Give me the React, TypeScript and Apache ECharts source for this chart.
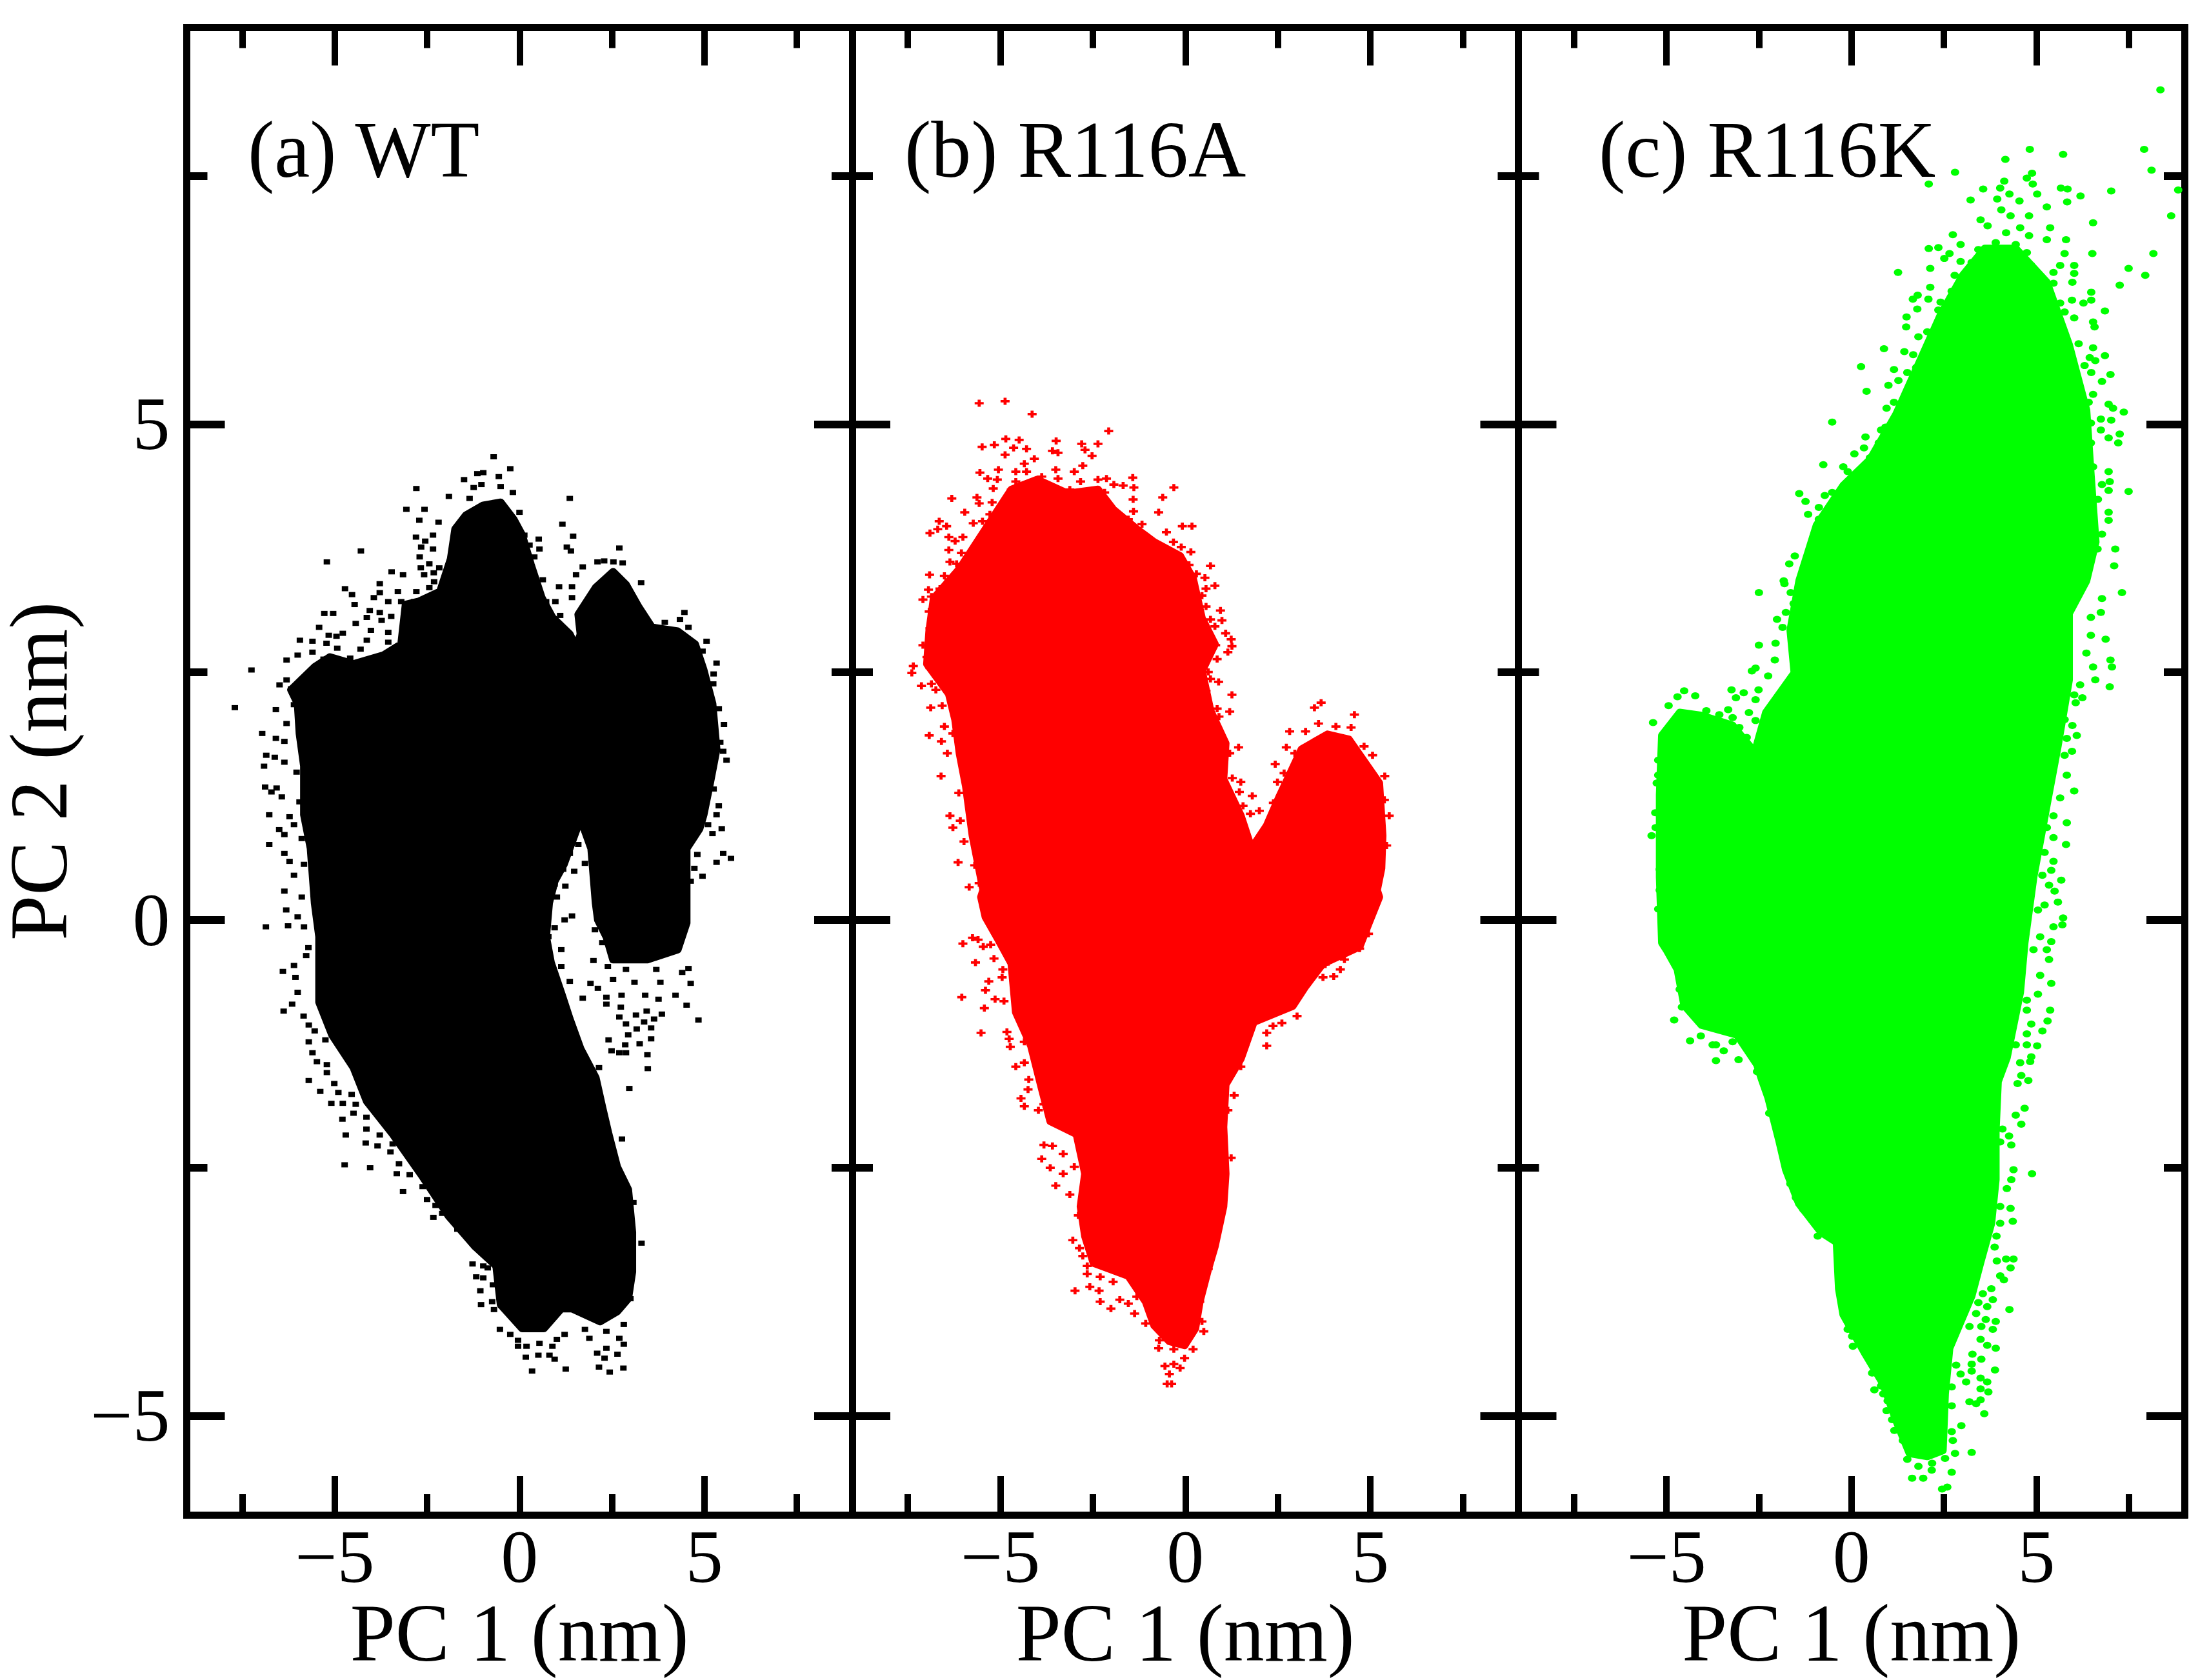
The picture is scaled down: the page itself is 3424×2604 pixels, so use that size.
import React, { useEffect, useRef } from "react";
import * as echarts from "echarts";

const panelNames = ["(a) WT", "(b) R116A", "(c) R116K"];
const panelColors = ["#000000", "#ff0000", "#00ff00"];
const xTitle = "PC 1 (nm)";
const yTitle = "PC 2 (nm)";
const majorTicks = [-5, 0, 5];
const xMinorTicks = [-7.5, -2.5, 2.5, 7.5];
const yMinorTicks = [-2.5, 2.5, 7.5];

// Dense core of each cloud, outline [PC1, PC2]
const coreWT = [[-5.42,-.83],[-5.42,-.17],[-5.54,.17],[-5.65,.72],[-5.83,1.06],[-5.83,1.55],[-5.95,1.88],[-6,2.18],[-6.18,2.32],[-5.54,2.55],[-5.13,2.65],[-4.49,2.58],[-3.67,2.67],[-3.2,2.78],[-3.08,3.18],[-2.73,3.21],[-2.15,3.31],[-1.86,3.64],[-1.74,3.94],[-1.45,4.08],[-.98,4.18],[-.51,4.21],[-.16,4.04],[.07,3.88],[.31,3.58],[.6,3.25],[.89,3.05],[1.36,2.88],[1.53,2.75],[1.65,2.88],[1.59,3.08],[2.06,3.35],[2.53,3.51],[2.88,3.38],[3.23,3.15],[3.58,2.95],[4.28,2.91],[4.75,2.78],[4.98,2.52],[5.22,2.18],[5.33,1.72],[5.16,1.39],[4.98,1.06],[4.87,.92],[4.52,.72],[4.52,.17],[4.52,-.03],[4.28,-.3],[3.46,-.4],[2.53,-.4],[2.35,-.17],[2.12,0],[2.06,.17],[1.94,.72],[1.65,1.02],[1.2,.56],[.95,.39],[.8,.17],[.72,-.17],[.85,-.43],[1.15,-.76],[1.36,-1],[1.65,-1.3],[2.06,-1.59],[2.24,-1.89],[2.41,-2.16],[2.64,-2.49],[2.94,-2.72],[3.05,-3.15],[3.05,-3.55],[2.94,-3.82],[2.64,-3.95],[2.18,-4.05],[1.42,-3.92],[1.13,-3.92],[.66,-4.12],[.07,-4.12],[-.51,-3.88],[-.63,-3.49],[-1.21,-3.29],[-1.91,-2.99],[-2.62,-2.59],[-3.43,-2.16],[-4.13,-1.83],[-4.49,-1.49],[-5.07,-1.16]];

const coreR116A = [[-5.46,.3],[-5.75,.85],[-5.93,1.35],[-6.1,1.68],[-6.22,2.02],[-6.39,2.28],[-6.98,2.58],[-6.92,2.91],[-6.8,3.24],[-6.1,3.54],[-5.4,3.94],[-4.7,4.34],[-4,4.44],[-3.18,4.3],[-2.36,4.34],[-1.95,4.14],[-1.31,3.94],[-.84,3.81],[-.14,3.67],[.21,3.44],[.45,3.04],[.8,2.78],[.45,2.51],[.68,2.11],[1.09,1.78],[1.03,1.42],[1.5,1.05],[1.79,.72],[2.2,.95],[2.55,1.25],[3.14,1.72],[3.84,1.87],[4.42,1.82],[5.24,1.38],[5.33,.85],[5.3,.52],[5.18,.3],[5.24,.23],[4.95,-.04],[4.71,-.27],[3.72,-.44],[3.25,-.67],[2.9,-.87],[1.85,-1.03],[1.5,-1.4],[1.09,-1.66],[1.03,-2.09],[1.09,-2.56],[1.03,-2.89],[.8,-3.29],[.62,-3.52],[.39,-3.85],[.27,-4.12],[-.02,-4.29],[-.43,-4.25],[-.84,-4.09],[-1.07,-3.85],[-1.54,-3.59],[-2.48,-3.46],[-2.71,-3.19],[-2.83,-2.89],[-2.71,-2.56],[-2.94,-2.16],[-3.65,-2.03],[-3.88,-1.7],[-4.17,-1.27],[-4.58,-.93],[-4.7,-.44],[-5.05,-.2],[-5.4,.03],[-5.52,.23]];

const coreR116K = [[-5.12,-.23],[-5.18,.43],[-5.18,1.26],[-5.12,1.86],[-4.64,2.09],[-4.05,2.06],[-3.21,1.96],[-2.61,1.69],[-2.31,2.09],[-1.54,2.49],[-1.65,2.92],[-1.41,3.42],[-.94,3.98],[-.22,4.38],[.5,4.64],[1.21,5.1],[1.45,5.3],[2.41,6.1],[3.01,6.5],[3.6,6.77],[4.44,6.77],[5.28,6.43],[5.88,5.8],[6.35,5.14],[6.47,4.48],[6.6,3.81],[6.35,3.42],[5.88,3.09],[5.88,2.42],[5.58,1.76],[5.28,1.16],[4.92,.43],[4.68,-.23],[4.56,-.73],[4.2,-1.39],[3.96,-1.63],[3.9,-2.13],[3.9,-2.62],[3.78,-3.06],[3.49,-3.45],[3.25,-3.79],[2.65,-4.32],[2.53,-4.78],[2.47,-5.35],[2.05,-5.41],[1.57,-5.38],[1.21,-5.05],[.86,-4.68],[.38,-4.38],[-.22,-3.98],[-.34,-3.72],[-.4,-3.25],[-.82,-3.15],[-1.42,-2.86],[-1.77,-2.52],[-1.95,-2.23],[-2.25,-1.79],[-2.43,-1.6],[-2.55,-1.46],[-3.09,-1.16],[-4.05,-1.06],[-4.52,-.86],[-4.7,-.5],[-5,-.3]];

// Individually visible fringe points [PC1, PC2]
const fringeWT = [[-.7,4.67],[-.25,4.55],[-.98,4.51],[-1.14,4.5],[-.56,4.47],[-1.5,4.44],[-2.79,4.35],[-1.03,4.39],[-1.24,4.36],[-.51,4.37],[-.18,4.31],[-1.91,4.27],[1.36,4.25],[-1.35,4.25],[-3.06,4.14],[-2.57,4.14],[0,4.11],[-2.71,4.03],[-2.19,4.01],[1.16,3.99],[.13,3.88],[.52,3.84],[1.45,3.87],[-2.8,3.86],[-2.34,3.88],[-2.55,3.82],[.27,3.78],[1.28,3.76],[1.39,3.72],[.54,3.74],[2.7,3.75],[-4.29,3.72],[-2.34,3.74],[-2.66,3.76],[.4,3.66],[-2.7,3.66],[-5.21,3.61],[2.11,3.61],[2.29,3.62],[2.54,3.61],[2.79,3.6],[1.71,3.56],[-2.44,3.59],[-2.67,3.55],[-2.17,3.55],[-3.46,3.51],[-3.15,3.48],[-2.58,3.48],[-2.32,3.5],[1.53,3.48],[.63,3.43],[-2.31,3.41],[-3.78,3.39],[3.29,3.4],[1.07,3.36],[1.42,3.36],[-4.72,3.34],[-4.53,3.28],[-3.78,3.3],[-3.29,3.31],[-2.79,3.31],[-2.44,3.35],[1.42,3.25],[.97,3.21],[.72,3.21],[-4.46,3.18],[-3.94,3.25],[-3.55,3.21],[-3.2,3.21],[-2.85,3.21],[-4.05,3.12],[-3.78,3.1],[-5.28,3.09],[-5.04,3.09],[1.1,3.07],[-2.62,3.08],[4.46,3.1],[4.34,3.03],[-4.13,3.05],[-3.73,3.02],[-3.47,3.06],[-4.43,2.99],[-5.42,2.95],[-3.08,3.01],[-2.79,3],[-2.4,2.98],[3.93,3],[4.57,2.95],[-4.78,2.89],[-5.16,2.87],[-4.95,2.86],[-4.02,2.92],[-3.55,2.9],[-5.94,2.82],[-5.6,2.81],[-5.22,2.79],[-4.13,2.82],[-3.55,2.8],[5.06,2.81],[-4.93,2.74],[-4.3,2.73],[4.95,2.71],[-3.2,2.71],[-6,2.67],[-5.6,2.7],[-6.3,2.62],[-5.3,2.63],[-4.58,2.64],[5.33,2.59],[-4.25,2.59],[-3.78,2.65],[-7.25,2.52],[-5.42,2.52],[-5.07,2.55],[-3.55,2.55],[5.25,2.48],[-6.3,2.42],[-5.89,2.42],[-4.49,2.45],[-3.9,2.45],[-6.49,2.37],[-6.18,2.33],[5.24,2.38],[-7.7,2.14],[-6.59,2.12],[-6.1,2.17],[5.39,2.13],[-6.3,1.98],[5.53,1.97],[-6.96,1.88],[-6.59,1.83],[-6.36,1.8],[5.43,1.79],[-6.85,1.66],[-6.62,1.64],[-6.36,1.59],[-6.91,1.55],[5.51,1.7],[5.6,1.61],[-6.03,1.49],[-6.88,1.34],[-6.57,1.33],[-6.71,1.29],[-6.43,1.24],[5.25,1.32],[-5.95,1.19],[5.39,1.15],[-6.77,1.06],[-6.22,1.04],[5.33,1.06],[-6.5,.91],[-6.36,.86],[-6.1,.96],[5.47,.92],[5.1,.96],[-6.77,.76],[-5.89,.82],[5.22,.87],[-6.36,.67],[-6.22,.59],[5.51,.67],[5.72,.62],[5.33,.58],[4.81,.66],[-5.83,.56],[-6.1,.45],[4.73,.52],[4.95,.44],[-6.36,.29],[-5.89,.23],[4.63,.39],[1.59,.76],[1.36,.67],[1.77,.57],[1.18,.51],[1.48,.49],[.95,.36],[1.24,.34],[1.01,.23],[-6.31,.1],[-6,.03],[-6.86,-.07],[-6.26,-.06],[-5.83,-.07],[1.42,.04],[1.22,0],[.95,-.08],[.78,-.17],[2.04,-.1],[2.24,-.23],[-5.71,-.28],[-5.77,-.36],[1.13,-.3],[2,-.41],[-6.1,-.46],[1.13,-.47],[-6.4,-.52],[2.39,-.47],[2.88,-.5],[3.7,-.5],[4.57,-.49],[4.4,-.53],[1.36,-.62],[1.92,-.64],[2.53,-.6],[3.11,-.63],[3.81,-.63],[4.63,-.64],[-6.06,-.58],[-6,-.73],[2.12,-.69],[2.35,-.78],[2.76,-.76],[3.4,-.76],[3.76,-.8],[4.22,-.76],[1.71,-.79],[-6.15,-.85],[-6.38,-.92],[4.52,-.86],[2.35,-.85],[2.74,-.88],[3.15,-.96],[3.44,-.92],[3.85,-.95],[3.64,-1],[4.84,-1.01],[2.7,-.98],[2.88,-1.05],[3.37,-1.03],[3.17,-1.1],[3.56,-1.09],[-5.84,-.97],[-5.7,-1.06],[-5.54,-1.12],[2.94,-1.16],[2.41,-1.21],[3.56,-1.2],[3.25,-1.25],[2.86,-1.26],[-5.7,-1.23],[-5.25,-1.21],[2.49,-1.32],[2.7,-1.34],[2.88,-1.34],[3.46,-1.36],[-5.6,-1.34],[-5.48,-1.43],[-5.21,-1.46],[2.15,-1.49],[3.47,-1.5],[-5.21,-1.54],[-5.7,-1.62],[-5.01,-1.65],[2.97,-1.7],[-5.39,-1.73],[-4.9,-1.74],[-4.54,-1.76],[-5.09,-1.85],[-4.78,-1.85],[-4.43,-1.86],[-4.49,-1.95],[-4.79,-2.01],[-4.14,-1.99],[-3.84,-1.91],[-4.14,-2.11],[-4.7,-2.17],[2.77,-2.21],[-4.16,-2.25],[-3.84,-2.28],[-3.78,-2.17],[-3.43,-2.26],[-3.49,-2.34],[-4.73,-2.47],[-4.04,-2.5],[-3.26,-2.46],[-3.32,-2.56],[-2.97,-2.57],[-2.62,-2.69],[-3.15,-2.74],[-2.21,-2.72],[-2.5,-2.82],[-2.27,-2.88],[-2.09,-2.96],[-1.91,-2.98],[-2.33,-3],[-1.68,-3.05],[-1.68,-3.12],[-1.45,-3.15],[3.08,-2.85],[3.3,-3.26],[-1.1,-3.29],[-1.27,-3.47],[-.98,-3.49],[-.86,-3.51],[-1.17,-3.6],[-.98,-3.61],[-.72,-3.68],[-1.06,-3.74],[-1.04,-3.88],[-.74,-3.85],[-.69,-3.93],[-.53,-4.13],[-.25,-4.18],[-.04,-4.24],[-.04,-4.3],[.19,-4.3],[.54,-4.27],[.89,-4.3],[1.22,-4.18],[1.01,-4.23],[.17,-4.41],[.51,-4.39],[.81,-4.39],[.95,-4.43],[.34,-4.55],[1.25,-4.53],[2.15,-4.51],[2.44,-4.56],[2.81,-4.52],[2.1,-4.37],[2.3,-4.42],[2.65,-4.38],[2.82,-4.28],[1.89,-4.22],[2.35,-4.32],[2.7,-4.22],[2.82,-4.08],[1.77,-4.13],[2.35,-4.15],[3,-3.82]];

const fringeR116A = [[-5.57,5.21],[-4.87,5.23],[-4.14,5.1],[-2.07,4.93],[-4.85,4.85],[-4.49,4.84],[-5.49,4.77],[-5.16,4.79],[-4.64,4.76],[-4.29,4.75],[-3.49,4.83],[-3.59,4.73],[-3.44,4.71],[-2.8,4.8],[-2.36,4.8],[-2.71,4.74],[-2.52,4.68],[-4.87,4.69],[-4.08,4.65],[-4.35,4.6],[-5.55,4.51],[-5.05,4.54],[-5.34,4.45],[-4.58,4.52],[-4.29,4.52],[-3.5,4.54],[-2.77,4.58],[-3,4.52],[-3.88,4.47],[-3.44,4.45],[-5.08,4.44],[-4.58,4.42],[-2.83,4.42],[-2.36,4.44],[-2.13,4.45],[-1.42,4.46],[-1.93,4.39],[-1.68,4.38],[-5.19,4.35],[-1.39,4.36],[-.31,4.36],[-4.7,4.34],[-4.11,4.34],[-3.53,4.34],[-3.12,4.34],[-2.18,4.31],[-6.31,4.25],[-5.63,4.26],[-.61,4.26],[-1.41,4.24],[-5.57,4.2],[-5.22,4.21],[-4.82,4.24],[-2.89,4.22],[-.72,4.11],[-1.4,4.12],[-5.96,4.11],[-5.28,4.09],[-6.65,4.02],[-5.73,4],[-5.48,4.02],[-4.93,4.07],[-2.07,4.14],[-1.54,4.04],[-.08,3.97],[.18,3.97],[-1.17,3.99],[-6.45,3.97],[-6.9,3.9],[-6.69,3.94],[-.51,3.91],[-1.07,3.87],[-6.01,3.86],[-6.39,3.86],[-6.22,3.82],[-5.34,3.87],[-.32,3.81],[-.84,3.77],[-5.66,3.72],[-6.39,3.73],[-6.05,3.7],[-.11,3.76],[.15,3.71],[-6.36,3.61],[-6.18,3.59],[-5.81,3.58],[.68,3.57],[.1,3.58],[-6.91,3.48],[-6.51,3.47],[-6.04,3.49],[.3,3.49],[.53,3.45],[-6.39,3.43],[-6.63,3.34],[-6.94,3.33],[-5.99,3.33],[-5.52,3.38],[.8,3.37],[.56,3.34],[-7.09,3.23],[-6.86,3.26],[-6.3,3.23],[.45,3.27],[-5.63,3.19],[-6.63,3.14],[.95,3.12],[.56,3.16],[-6.92,3.11],[-6.22,3.13],[-6.74,3.04],[-5.99,3.04],[-5.52,3.06],[.99,3.02],[.68,3.03],[-6.9,2.94],[-6.34,2.94],[.8,2.96],[-5.87,2.91],[1.09,2.89],[-6.57,2.86],[.62,2.86],[1.24,2.83],[-7.09,2.77],[-6.86,2.76],[-6.22,2.78],[.82,2.77],[1.26,2.76],[-6.98,2.65],[-6.39,2.65],[1.15,2.7],[-5.52,2.71],[.86,2.63],[-7.35,2.56],[-7.39,2.49],[-6.9,2.54],[.62,2.5],[-7.13,2.36],[-6.86,2.38],[.9,2.4],[-6.74,2.32],[.68,2.43],[1.26,2.27],[.56,2.31],[-6.88,2.14],[-6.57,2.16],[1.2,2.1],[.86,2.13],[-6.51,1.95],[.91,2.05],[-6.92,1.86],[-6.28,1.88],[-6.59,1.8],[1.44,1.74],[1.2,1.68],[-6.43,1.68],[-6.6,1.45],[3.67,2.19],[3.49,2.14],[4.57,2.07],[2.82,1.9],[3.25,1.9],[3.6,1.98],[4.07,1.95],[4.48,1.94],[4.83,1.75],[5.06,1.66],[2.73,1.74],[2.96,1.68],[2.43,1.57],[5.39,1.45],[2.67,1.48],[2.49,1.39],[1.5,1.39],[1.27,1.43],[-6.12,1.28],[-5.81,1.25],[1.46,1.29],[1.81,1.25],[5.38,1.21],[2.38,1.18],[1.56,1.15],[2,1.1],[1.76,1.07],[5.51,1.05],[-6.36,1.05],[-6.08,1],[-6.28,.93],[-5.98,.79],[5.44,.75],[-6.14,.58],[-5.69,.55],[-5.57,.37],[-5.84,.33],[-5.75,-.18],[-5.6,-.2],[-6.01,-.24],[-5.46,-.27],[-5.26,-.25],[-5.67,-.43],[-5.17,-.39],[-4.93,-.5],[-5.31,-.62],[-4.95,-.58],[-5.4,-.71],[-5.14,-.8],[-4.9,-.82],[-6.04,-.78],[-5.43,-.89],[-5.52,-1.14],[-4.82,-1.13],[-4.76,-1.2],[-4.73,-1.28],[-4.35,-1.23],[-4.58,-1.48],[-4.35,-1.44],[-4.23,-1.61],[-4.25,-1.71],[-4.44,-1.8],[-4.35,-1.88],[-3.97,-1.92],[-3.82,-1.86],[-3.82,-2.27],[-3.59,-2.28],[-3.88,-2.41],[-3.65,-2.5],[-3.3,-2.36],[-3.3,-2.56],[-3.5,-2.68],[-3,-2.49],[-3.12,-2.77],[-2.89,-2.98],[-3.04,-3.23],[-2.86,-3.31],[-2.77,-3.39],[-2.65,-3.49],[-2.65,-3.57],[-2.3,-3.6],[-1.95,-3.65],[-2.98,-3.74],[-2.58,-3.7],[-2.33,-3.74],[-2.3,-3.85],[-2.01,-3.92],[-1.77,-3.83],[-1.54,-3.87],[-1.37,-3.97],[-1.07,-4.07],[-1.31,-3.8],[-.7,-4.24],[-.72,-4.32],[-.31,-4.33],[-.02,-4.42],[-.55,-4.5],[-.31,-4.48],[-.43,-4.58],[-.14,-4.52],[-.49,-4.68],[-.37,-4.68],[.21,-4.33],[.5,-4.15],[.45,-4.05],[.39,-3.85],[.62,-3.52],[1.24,-2.4],[1.32,-1.77],[1.15,-1.92],[1.5,-1.48],[2.2,-1.27],[2.2,-1.14],[2.61,-1.04],[3.02,-.97],[2.37,-1.07],[3.72,-.58],[4.01,-.57],[4.19,-.5],[4.3,-.4],[3.78,-.45],[4.95,-.14],[4.71,-.29]];

const fringeR116K = [[8.35,8.37],[7.91,7.77],[8.11,7.56],[8.83,7.36],[8.64,7.1],[4.82,7.77],[5.72,7.72],[4.16,7.67],[2.8,7.54],[4.88,7.53],[4.74,7.48],[2.09,7.42],[4.13,7.45],[4.9,7.42],[4.02,7.38],[3.56,7.37],[5.66,7.38],[5.84,7.37],[7.02,7.35],[4.27,7.32],[5.02,7.32],[6.19,7.3],[3.22,7.26],[3.94,7.27],[4.54,7.25],[5.83,7.24],[5.28,7.19],[4.05,7.16],[4.8,7.1],[4.3,7.1],[3.49,7.06],[3.68,7],[6.53,7.03],[4.56,6.98],[5.37,6.98],[2.74,6.91],[4.18,6.93],[5.8,6.86],[4.8,6.9],[5.28,6.86],[2.09,6.77],[2.35,6.78],[2.95,6.81],[3.9,6.83],[4.44,6.81],[3.43,6.76],[5.76,6.72],[6.51,6.72],[8.16,6.72],[2.65,6.72],[2.51,6.67],[4.74,6.73],[4.14,6.71],[2.95,6.64],[3.25,6.63],[3.73,6.63],[4.86,6.6],[5.64,6.6],[6.02,6.6],[1.26,6.53],[2.13,6.57],[7.49,6.57],[7.94,6.5],[5.46,6.53],[6.02,6.52],[2.79,6.5],[3.49,6.47],[4.56,6.49],[5.97,6.43],[7.25,6.4],[2.13,6.38],[4.8,6.38],[5.46,6.42],[2.71,6.34],[3.19,6.33],[4.08,6.37],[5.16,6.33],[6.48,6.33],[1.79,6.3],[1.66,6.26],[2.08,6.26],[4.44,6.27],[5.96,6.25],[6.48,6.25],[2.41,6.23],[4.92,6.22],[5.64,6.22],[6.27,6.22],[1.78,6.16],[2.35,6.15],[6.85,6.14],[5.76,6.13],[2.89,6.13],[1.49,6.08],[4.86,6.1],[5.34,6.07],[6.02,6.07],[2.47,6.05],[6.53,6.03],[1.48,5.98],[5.04,6.07],[5.52,5.95],[6.57,5.98],[2.05,5.93],[4.98,5.93],[1.81,5.88],[2.41,5.9],[4.68,5.95],[5.28,5.82],[2.17,5.84],[5.82,5.82],[6.14,5.81],[.88,5.76],[6.53,5.77],[1.43,5.73],[2.71,5.73],[1.67,5.7],[2.35,5.73],[6.85,5.69],[5.76,5.7],[6.44,5.67],[.26,5.58],[1.15,5.55],[1.75,5.57],[2.11,5.64],[6.3,5.59],[6.59,5.64],[7,5.5],[6.48,5.52],[1.51,5.52],[5.88,5.54],[1.27,5.44],[1,5.39],[6.77,5.43],[.41,5.33],[1.57,5.35],[5.64,5.34],[6.53,5.3],[6,5.27],[1.75,5.24],[1.15,5.22],[.95,5.16],[6.95,5.2],[7.07,5.16],[6.41,5.22],[7.36,5.12],[5.88,5.14],[1.51,5.07],[-.52,5.02],[6.74,5.05],[7.02,5.04],[.92,4.97],[6.47,5.01],[.38,4.87],[.8,4.94],[1.33,4.87],[6.74,4.94],[7.25,4.9],[6.95,4.86],[7.21,4.81],[.74,4.81],[.34,4.76],[.08,4.7],[.5,4.66],[6.47,4.81],[-.76,4.59],[-.22,4.57],[.74,4.59],[1.15,4.59],[-.1,4.52],[.38,4.48],[6.53,4.57],[6.95,4.52],[-.16,4.39],[6.77,4.39],[6.98,4.42],[7.49,4.32],[6.95,4.33],[-1.41,4.3],[-.52,4.31],[-.72,4.28],[-1.24,4.22],[-.28,4.24],[-.88,4.16],[-1.17,4.09],[6.66,4.24],[6.95,4.11],[6.53,4.09],[6.95,4.03],[-.88,4.04],[6.77,3.89],[-1.53,3.67],[7.13,3.74],[6.65,3.74],[7.1,3.57],[-1.68,3.59],[-1.18,3.56],[-1.83,3.42],[-2.5,3.3],[-1.81,3.39],[-1.64,3.3],[7.31,3.3],[6.77,3.24],[-1.56,3.19],[6.74,3.1],[-1.77,3.1],[-2.01,3.03],[6.47,3.05],[6.87,2.83],[-1.86,2.95],[-2.5,2.77],[-2.05,2.79],[6.47,2.87],[7,2.62],[7.04,2.55],[6.35,2.69],[-2.07,2.62],[-2.59,2.54],[-2.69,2.51],[6.53,2.55],[-2.25,2.46],[6.59,2.42],[6.98,2.35],[6.18,2.37],[-3.24,2.32],[-2.51,2.32],[-2.91,2.29],[-3.12,2.24],[6.02,2.27],[6.24,2.24],[-4.52,2.31],[-4.7,2.25],[-4.22,2.26],[-4.94,2.16],[-2.59,2.22],[6.06,2.19],[-3.33,2.12],[-3.92,2.11],[-2.77,2.09],[-5.36,1.99],[-3.57,2.07],[-3.21,2.04],[-2.59,2.01],[5.76,2.02],[5.97,1.96],[-3.03,1.94],[6.09,1.86],[-2.83,1.84],[5.82,1.83],[5.96,1.7],[-5.22,1.61],[5.76,1.66],[5.82,1.46],[-5.22,1.46],[-5.26,1.38],[6.02,1.3],[5.64,1.23],[-5.3,1.08],[5.46,1.05],[-5.29,.93],[5.82,.98],[-5.4,.85],[5.28,.93],[5.46,.83],[5.8,.76],[5.22,.68],[5.46,.59],[-5.18,.51],[5.4,.5],[5.16,.45],[5.67,.4],[5.34,.35],[5.49,.29],[-5.18,.3],[5.58,.18],[5.22,.15],[-5.22,.11],[5.04,.1],[5.72,.02],[5.7,-.05],[5.46,-.07],[5.1,-.17],[-4.98,-.18],[5.4,-.22],[5.28,-.3],[5.34,-.4],[4.92,-.3],[5.1,-.56],[5.4,-.64],[5.04,-.75],[-4.64,-.7],[-4.58,-.88],[4.74,-.81],[5.37,-.91],[4.74,-.91],[-4.79,-1.01],[5.3,-1.02],[4.86,-1.05],[5.16,-1.12],[4.74,-1.15],[-4.36,-1.22],[-4.07,-1.17],[-3.75,-1.26],[-3.66,-1.26],[-3.45,-1.32],[-3.21,-1.23],[5.02,-1.27],[4.74,-1.26],[4.44,-1.26],[-3.66,-1.42],[-3.05,-1.41],[4.86,-1.38],[4.56,-1.44],[4.83,-1.43],[-2.55,-1.53],[4.59,-1.57],[4.78,-1.62],[4.49,-1.65],[4.68,-1.9],[4.44,-1.97],[4.59,-2.06],[-2.22,-1.95],[4.08,-2.11],[4.26,-2.18],[4.32,-2.27],[4.02,-2.24],[4.88,-2.56],[4.38,-2.52],[4.32,-2.62],[4.2,-2.71],[-1.5,-2.8],[-1.65,-2.66],[4.3,-2.91],[4.02,-2.89],[4.36,-3.04],[4.02,-3.06],[-1.3,-2.92],[-1.06,-3.03],[-.91,-3.19],[3.92,-3.19],[3.87,-3.3],[4.18,-3.42],[4.38,-3.42],[4.3,-3.51],[3.93,-3.44],[4.02,-3.59],[4.12,-3.63],[3.78,-3.72],[3.55,-3.77],[3.82,-3.83],[3.43,-3.86],[4.27,-3.93],[3.67,-3.9],[3.37,-3.97],[3.63,-4.03],[3.9,-4.05],[3.51,-4.1],[3.19,-4.1],[3.82,-4.13],[-.1,-4.13],[.02,-4.2],[3.49,-4.23],[.04,-4.3],[3.67,-4.29],[3.9,-4.32],[3.27,-4.38],[3.51,-4.43],[2.83,-4.49],[3.25,-4.48],[3.88,-4.54],[.56,-4.57],[2.95,-4.58],[3.25,-4.55],[3.49,-4.62],[3.67,-4.66],[3.1,-4.66],[.8,-4.7],[.62,-4.74],[3.49,-4.73],[2.71,-4.71],[3.7,-4.76],[.86,-4.78],[3.49,-4.84],[3.19,-4.86],[3.37,-4.88],[.98,-4.85],[.95,-4.95],[2.71,-4.9],[3.59,-4.98],[1.1,-5.04],[2.97,-5.1],[2.71,-5.16],[1.16,-5.15],[2.74,-5.25],[1.39,-5.25],[2.8,-5.38],[3.25,-5.37],[1.51,-5.44],[2.18,-5.48],[2.53,-5.43],[1.81,-5.51],[2.71,-5.57],[2.17,-5.55],[1.64,-5.63],[1.94,-5.63],[2.45,-5.74],[2.59,-5.72]];

const cores = [coreWT, coreR116A, coreR116K];
const fringes = [fringeWT, fringeR116A, fringeR116K];

const PLUS = "path://M-1,-3H1V-1H3V1H1V3H-1V1H-3V-1H-1Z";
const SERIF = '"Liberation Serif"';
const panelEdges = [289.5, 1321, 2353.5, 3386];
const gridTop = 42.5;
const gridBottom = 2348;
const W = 3424;
const H = 2604;
const labelX = [384, 1402, 2478];

const fmt = (v: number) => (v < 0 ? `\u2212${-v}` : `${v}`);

function buildOption() {
  const grid: any[] = [];
  const xAxis: any[] = [];
  const yAxis: any[] = [];
  const series: any[] = [];
  const graphic: any[] = [];
  panelNames.forEach((name, i) => {
    grid.push({
      left: panelEdges[i],
      width: panelEdges[i + 1] - panelEdges[i],
      top: gridTop,
      height: gridBottom - gridTop,
      containLabel: false,
      outerBoundsMode: "none",
    });
    const base = xAxis.length;
    const mk = (isX: boolean, position: string, ticks: number[], len: number, main: boolean, label: boolean, named: boolean) => ({
      type: "value",
      gridIndex: i,
      position,
      min: isX ? -9 : -6,
      max: 9,
      splitLine: { show: false },
      minorTick: { show: false },
      axisLine: { show: main, onZero: false, lineStyle: { color: "#000", width: 11, cap: "square" } },
      axisTick: {
        show: true,
        inside: true,
        length: len,
        customValues: ticks,
        lineStyle: { color: "#000", width: isX ? 10 : 12 },
      },
      axisLabel: label
        ? {
            show: true,
            customValues: majorTicks,
            formatter: fmt,
            fontFamily: SERIF,
            fontSize: 116,
            color: "#000",
            margin: isX ? 7 : 26,
            showMinLabel: true,
            showMaxLabel: true,
          }
        : { show: false },
      ...(named
        ? {
            name: isX ? xTitle : yTitle,
            nameLocation: "middle",
            nameMoveOverlap: false,
            nameGap: isX ? 120 : 166,
            nameRotate: isX ? 0 : 90,
            nameTextStyle: { fontFamily: SERIF, fontSize: 126, color: "#000" },
          }
        : {}),
    });
    xAxis.push(
      mk(true, "bottom", majorTicks, 60, true, true, true),
      mk(true, "bottom", xMinorTicks, 32, false, false, false),
      mk(true, "top", majorTicks, 59, true, false, false),
      mk(true, "top", xMinorTicks, 32, false, false, false),
    );
    yAxis.push(
      mk(false, "left", majorTicks, 59, true, i === 0, i === 0),
      mk(false, "left", yMinorTicks, 32, false, false, false),
      mk(false, "right", majorTicks, 59, true, false, false),
      mk(false, "right", yMinorTicks, 32, false, false, false),
    );
    const color = panelColors[i];
    const core = cores[i];
    series.push({
      type: "custom",
      xAxisIndex: base,
      yAxisIndex: base,
      coordinateSystem: "cartesian2d",
      silent: true,
      clip: false,
      data: [core[0]],
      renderItem: (_p: any, api: any) => ({
        type: "polygon",
        shape: { points: core.map((pt) => api.coord(pt)) },
        style: { fill: color, stroke: color, lineWidth: 12, lineJoin: "round" },
      }),
    });
    series.push({
      type: "scatter",
      xAxisIndex: base,
      yAxisIndex: base,
      silent: true,
      large: false,
      symbol: i === 0 ? "rect" : i === 1 ? PLUS : "circle",
      symbolSize: i === 0 ? [10, 8] : i === 1 ? [14, 11] : [13, 11],
      itemStyle: { color, opacity: 1 },
      data: fringes[i],
    });
    graphic.push({
      type: "text",
      left: labelX[i],
      top: 170,
      z: 50,
      style: { text: name, font: `124px ${SERIF}`, fill: "#000" },
    });
  });
  return { animation: false, backgroundColor: "#fff", grid, xAxis, yAxis, series, graphic };
}

export default function App() {
  const ref = useRef<HTMLDivElement>(null);
  useEffect(() => {
    const chart = echarts.init(ref.current!, undefined, { renderer: "svg", width: W, height: H });
    chart.setOption(buildOption() as any);
    return () => chart.dispose();
  }, []);
  return <div ref={ref} style={{ position: "absolute", left: 0, top: 0, width: W, height: H }} />;
}
